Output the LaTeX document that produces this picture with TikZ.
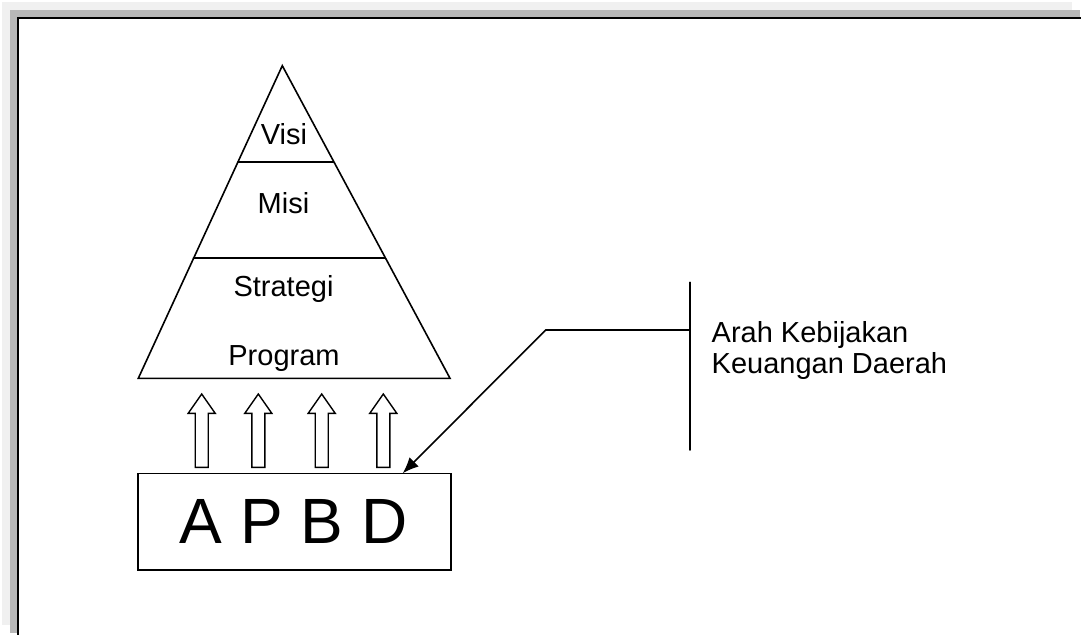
\documentclass[tikz,border=0pt]{standalone}
\usepackage{fontspec}
\setmainfont{Liberation Sans}
\usetikzlibrary{arrows.meta,calc}
\definecolor{shadelight}{HTML}{F0F0F0}
\definecolor{shadedark}{HTML}{B8B8B8}
\tikzset{
  lbl/.style={font=\fontsize{29}{32}\selectfont, anchor=base, inner sep=0pt},
  big/.style={font=\fontsize{64}{70}\selectfont, anchor=base, inner sep=0pt},
  ln/.style={line width=1.6pt, line cap=round, line join=miter},
  hollow/.style={line width=1.4pt, fill=white, line join=miter},
}
\begin{document}
\begin{tikzpicture}[x=1pt,y=-1pt]
\useasboundingbox (0,0) rectangle (1081,635);
\fill[white] (0,0) rectangle (1081,635);
% frame shadow
\fill[shadelight] (2,2) rectangle (1072,10);
\fill[shadelight] (2,2) rectangle (10,625);
\fill[shadedark] (10,10) rectangle (1080,17);
\fill[shadedark] (10,10) rectangle (17,633);
\draw[line width=2.2pt] (17,18) -- (1081,18);
\draw[line width=2.2pt] (18,17) -- (18,635);

% pyramid
\coordinate (apex) at (282.3,65.7);
\coordinate (bl) at (138.3,378.3);
\coordinate (br) at (450,378.3);
\draw[ln] (apex) -- (bl) -- (br) -- cycle;
\coordinate (v1) at (238,161.7);
\coordinate (v2) at (333.5,161.7);
\coordinate (m1) at (193.5,257.7);
\coordinate (m2) at (385,257.7);
\draw[ln] (v1) -- (v2);
\draw[ln] (m1) -- (m2);
\node[lbl] (visi) at (284,144.3) {Visi};
\node[lbl] (misi) at (283.5,213.3) {Misi};
\node[lbl] (strategi) at (283.5,296) {Strategi};
\node[lbl] (program) at (284,365) {Program};

% hollow arrows
\foreach \cx/\nm in {201.7/ha, 258.3/hb, 321.7/hc, 383.3/hd}{
  \draw[hollow] (\cx-6.5,467.3) -- (\cx-6.5,413.3) -- (\cx-13.5,413.3) -- (\cx,394)
     -- (\cx+13.5,413.3) -- (\cx+6.5,413.3) -- (\cx+6.5,467.3) -- cycle;
}

% APBD box
\node[draw, line width=1.6pt, minimum width=313pt, minimum height=96.5pt, inner sep=0pt]
  (apbd) at (294.4,521.7) {};
\node[big] (apbdtxt) at (293.5,543.3) {A P B D};

% policy bracket
\coordinate (vtop) at (690,282.3);
\coordinate (vbot) at (690,450);
\coordinate (vmid) at (690,330);
\coordinate (bend) at (545.7,330);
\coordinate (tip) at (402.7,473.3);
\draw[ln] (vtop) -- (vbot);
\draw[ln, -{Latex[length=16pt,width=13pt]}] (vmid) -- (bend) -- (tip);
\node[lbl, anchor=base west] (arah) at (711.5,342.3) {Arah Kebijakan};
\node[lbl, anchor=base west] (keu) at (711.5,373.3) {Keuangan Daerah};
\end{tikzpicture}
\end{document}
